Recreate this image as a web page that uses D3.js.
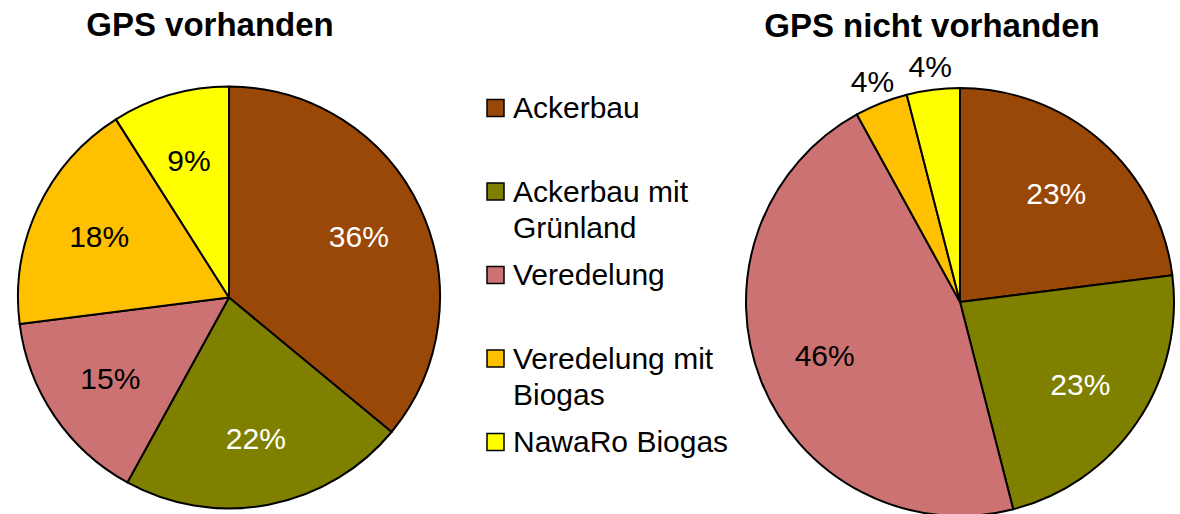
<!DOCTYPE html>
<html>
<head>
<meta charset="utf-8">
<script src="https://cdn.jsdelivr.net/npm/d3@7/dist/d3.min.js"></script>
<style>
  html, body { margin: 0; padding: 0; background: #fff; }
  svg { display: block; font-family: "Liberation Sans", Arial, sans-serif; }
</style>
</head>
<body>
<svg id="chart" width="1180" height="514"></svg>
<script>
const categories = ["Ackerbau", "Ackerbau mit Grünland", "Veredelung", "Veredelung mit Biogas", "NawaRo Biogas"];
const colors = ["#9A4807", "#808000", "#CC7272", "#FFC000", "#FFFF00"];
const titles = ["GPS vorhanden", "GPS nicht vorhanden"];
const valuesWithGPS = [36, 22, 15, 18, 9];
const valuesWithoutGPS = [23, 23, 46, 4, 4];

const svg = d3.select("#chart");
const color = d3.scaleOrdinal().domain(categories).range(colors);

function textColor(c) {
  const rgb = d3.rgb(c);
  const lum = 0.299 * rgb.r + 0.587 * rgb.g + 0.114 * rgb.b;
  return lum < 130 ? "#ffffff" : "#000000";
}

function drawPie(values, cx, cy, R, title, titleX, titleY) {
  const data = categories.map((c, i) => ({ cat: c, value: values[i] }));
  const total = d3.sum(values);
  const pie = d3.pie().sort(null).value(d => d.value);
  const arcs = pie(data);
  const arc = d3.arc().innerRadius(0).outerRadius(R);
  const labelArc = d3.arc().innerRadius(R * 0.68).outerRadius(R * 0.68);
  const outArc = d3.arc().innerRadius(R + 24).outerRadius(R + 24);

  const g = svg.append("g").attr("transform", `translate(${cx},${cy})`);
  g.selectAll("path")
    .data(arcs)
    .join("path")
    .attr("d", arc)
    .attr("fill", d => color(d.data.cat))
    .attr("stroke", "#000")
    .attr("stroke-width", 2)
    .attr("stroke-linejoin", "round");

  g.selectAll("text.lbl")
    .data(arcs)
    .join("text")
    .attr("class", "lbl")
    .attr("transform", d => {
      const small = d.value / total < 0.05;
      const p = (small ? outArc : labelArc).centroid(d);
      return `translate(${p[0]},${p[1]})`;
    })
    .attr("text-anchor", "middle")
    .attr("dy", "0.36em")
    .attr("font-size", 30)
    .attr("fill", d => d.value / total < 0.05 ? "#000" : textColor(color(d.data.cat)))
    .text(d => Math.round(d.value / total * 100) + "%");

  svg.append("text")
    .attr("x", titleX)
    .attr("y", titleY)
    .attr("text-anchor", "middle")
    .attr("font-size", 33)
    .attr("font-weight", "bold")
    .attr("fill", "#000")
    .text(title);
}

drawPie(valuesWithGPS, 229, 297.5, 211, titles[0], 210, 36);
drawPie(valuesWithoutGPS, 960, 302, 214, titles[1], 932, 37);

// Legend
const legendRowsY = d3.scalePoint().domain(categories).range([118, 452]);
const legend = svg.append("g");
const maxW = 225;
categories.forEach(cat => {
  const y = legendRowsY(cat);
  legend.append("rect")
    .attr("x", 487).attr("y", y - 18.5)
    .attr("width", 17).attr("height", 17)
    .attr("fill", color(cat))
    .attr("stroke", "#000").attr("stroke-width", 1.5);
  const t = legend.append("text")
    .attr("x", 513).attr("y", y)
    .attr("font-size", 30)
    .attr("fill", "#000");
  const words = cat.split(" ");
  let line = [];
  let tspan = t.append("tspan").attr("x", 513).attr("dy", 0);
  words.forEach(w => {
    line.push(w);
    tspan.text(line.join(" "));
    if (tspan.node().getComputedTextLength() > maxW && line.length > 1) {
      line.pop();
      tspan.text(line.join(" "));
      line = [w];
      tspan = t.append("tspan").attr("x", 513).attr("dy", 36).text(w);
    }
  });
});
</script>
</body>
</html>
